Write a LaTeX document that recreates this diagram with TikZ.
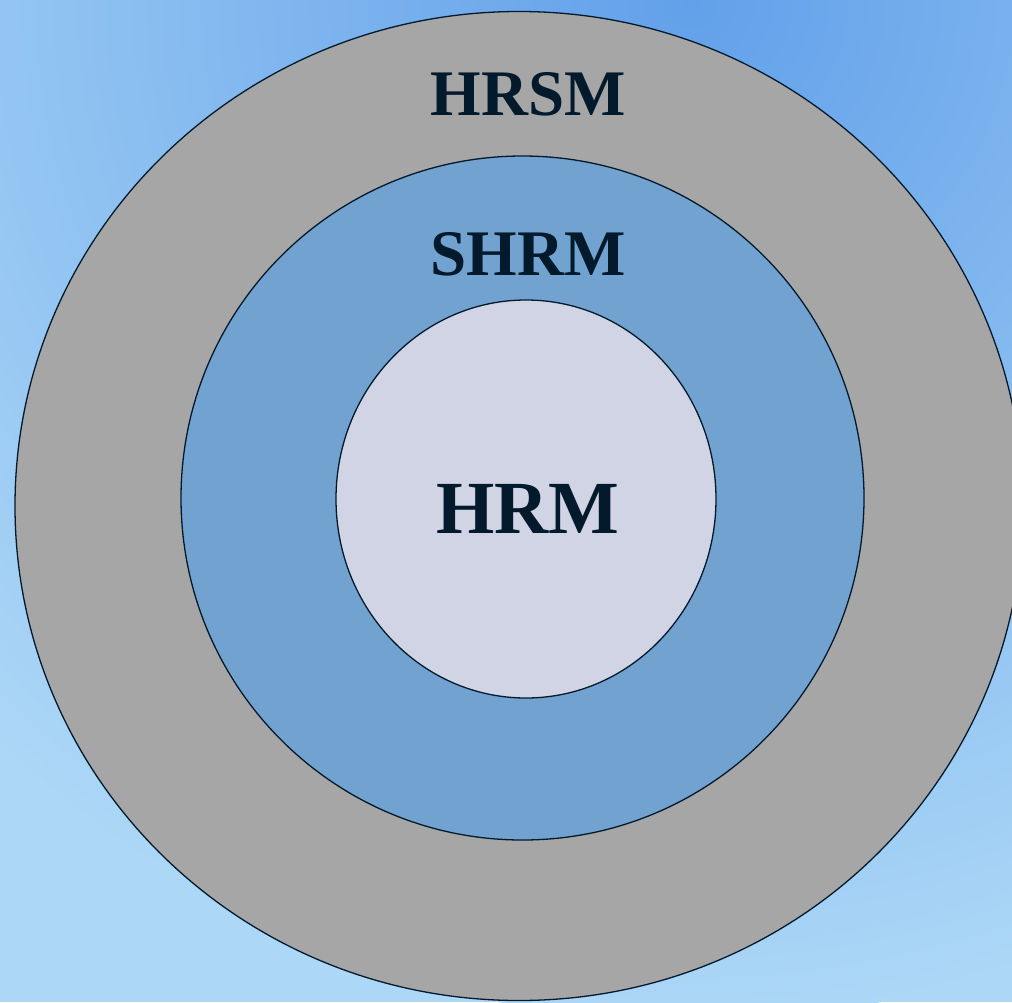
\documentclass[tikz,border=0pt]{standalone}
\usepackage{fontspec}
\setmainfont{Liberation Serif}
\usepackage{tikz}
\usetikzlibrary{positioning}

\definecolor{skyLight}{HTML}{ACD7F6}
\definecolor{skyDark}{HTML}{62A0EA}
\definecolor{ringGray}{HTML}{A6A6A6}
\definecolor{ringBlue}{HTML}{72A2D0}
\definecolor{coreLilac}{HTML}{D0D4E4}
\definecolor{inkNavy}{HTML}{021A2C}

\tikzset{
ring/.style={draw=inkNavy, line width=1.3pt},
ringtext/.style={font=\fontsize{#1}{#1}\selectfont\bfseries, text=inkNavy, inner sep=0pt, anchor=base}
}

\begin{document}
\begin{tikzpicture}[x=1pt, y=-1pt]

% sky backdrop, darkest near the top right
\begin{scope}
\clip (0,0) rectangle (1012,1002);
\fill[skyLight] (0,0) rectangle (1012,1002);
\shade[inner color=skyDark, outer color=skyLight] (690,0) circle [radius=1020];
\end{scope}
\useasboundingbox (0,0) rectangle (1012,1002);

% the three rings, outside in
\draw[ring, fill=ringGray] (519,506) ellipse [x radius=504, y radius=494.5];
\draw[ring, fill=ringBlue] (522.5,498) ellipse [x radius=341.5, y radius=342];
\draw[ring, fill=coreLilac] (526,499) ellipse [x radius=190, y radius=199];

\node[ringtext=65] (hrsm) at (528,115) {HRSM};
\node[ringtext=65] (shrm) at (528,275) {SHRM};
\node[ringtext=75] (hrm) at (528,533) {HRM};

\end{tikzpicture}
\end{document}
